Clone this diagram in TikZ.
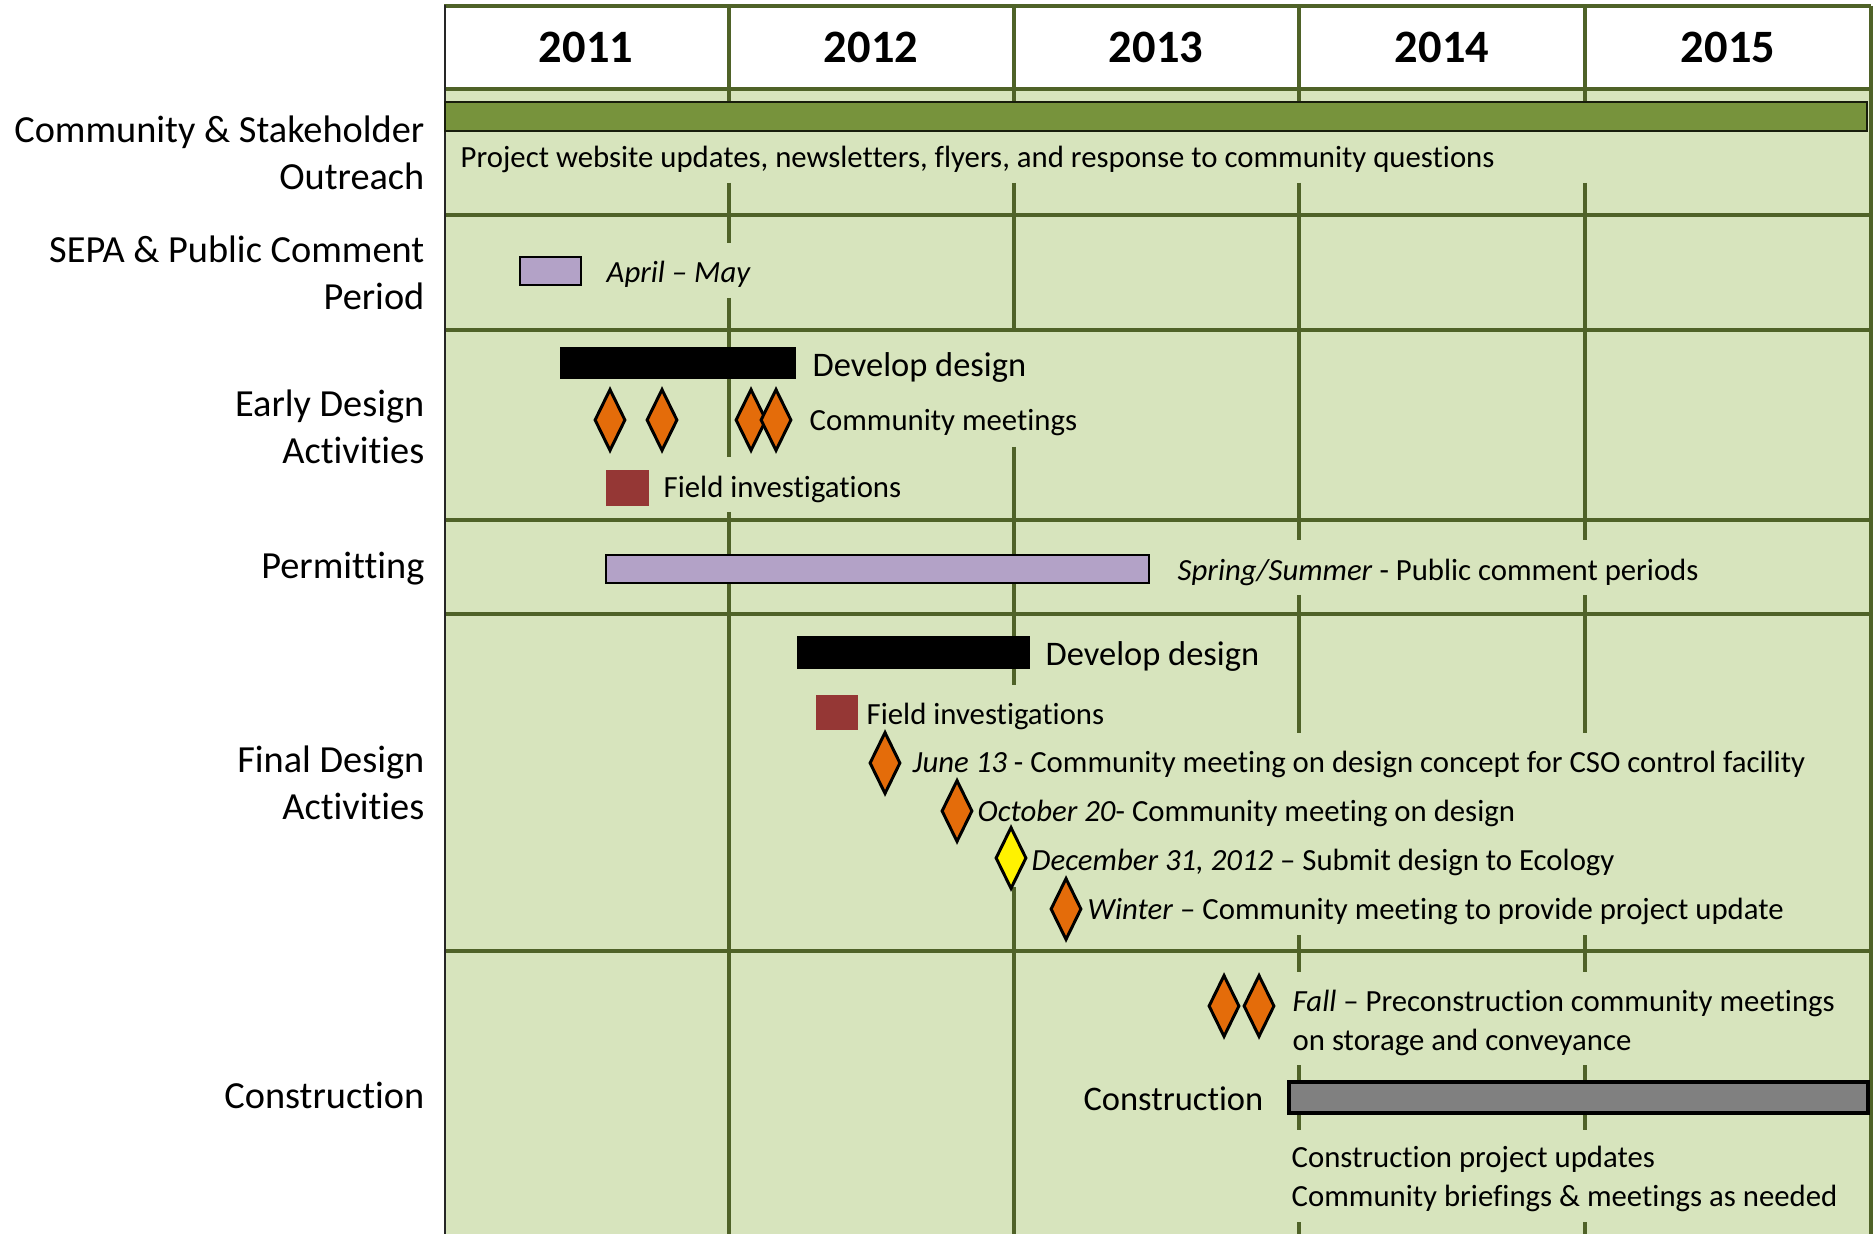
\documentclass[tikz,border=0pt]{standalone}
\usepackage{fontspec}
\setmainfont{Carlito}[Ligatures=NoCommon]
\usetikzlibrary{shapes.geometric}
\definecolor{chart_bg}{RGB}{215, 228, 189}
\definecolor{chart_line}{RGB}{79, 98, 40}
\definecolor{olive_bar}{RGB}{119, 147, 60}
\definecolor{lilac}{RGB}{179, 162, 199}
\definecolor{brick}{RGB}{149, 55, 53}
\definecolor{meet_orange}{RGB}{228, 108, 10}
\definecolor{bar_grey}{RGB}{128, 128, 128}
\tikzstyle{rowlabel}=[anchor=east,align=right,inner sep=0pt,
  font=\fontsize{10.9}{13.4}\selectfont]
\tikzstyle{year}=[inner sep=0pt,font=\bfseries\fontsize{13.2}{15}\selectfont]
\tikzstyle{note}=[anchor=west,align=left,inner sep=0pt,
  font=\fontsize{8.75}{11.1}\selectfont]
\tikzstyle{bignote}=[anchor=west,inner sep=0pt,font=\fontsize{9.8}{11.5}\selectfont]
\tikzstyle{meet}=[diamond,fill=meet_orange,draw=black,line width=0.85pt,
  inner sep=0pt,minimum width=0.31cm,minimum height=0.62cm]
\tikzstyle{deadline}=[style=meet,fill=yellow]
\tikzstyle{yearline}=[draw=chart_line,line width=0.95pt]
\tikzstyle{rowline}=[draw=chart_line,line width=1.15pt]
\tikzstyle{none}=[]

\begin{document}
\begin{tikzpicture}[x=0.01cm, y=-0.01cm]
            \useasboundingbox (0, 0) rectangle (1873, 1234);
            \fill [white] (444, 6) rectangle (1871, 89);
            \fill [chart_bg] (444, 89) rectangle (1871, 1234);
            % year lines, broken where the text boxes sit
            \draw [style=yearline] (729, 6) to (729, 101);
            \draw [style=yearline] (729, 183) to (729, 243);
            \draw [style=yearline] (729, 298) to (729, 457);
            \draw [style=yearline] (729, 512) to (729, 1234);
            \draw [style=yearline] (1014, 6) to (1014, 101);
            \draw [style=yearline] (1014, 183) to (1014, 332);
            \draw [style=yearline] (1014, 447) to (1014, 685);
            \draw [style=yearline] (1014, 887) to (1014, 1234);
            \draw [style=yearline] (1299, 6) to (1299, 101);
            \draw [style=yearline] (1299, 183) to (1299, 540);
            \draw [style=yearline] (1299, 595) to (1299, 733);
            \draw [style=yearline] (1299, 935) to (1299, 972);
            \draw [style=yearline] (1299, 1065) to (1299, 1130);
            \draw [style=yearline] (1299, 1222) to (1299, 1234);
            \draw [style=yearline] (1585, 6) to (1585, 101);
            \draw [style=yearline] (1585, 183) to (1585, 540);
            \draw [style=yearline] (1585, 595) to (1585, 733);
            \draw [style=yearline] (1585, 935) to (1585, 972);
            \draw [style=yearline] (1585, 1065) to (1585, 1130);
            \draw [style=yearline] (1585, 1222) to (1585, 1234);
            \draw [style=yearline] (1871, 6) to (1871, 1234);
            % row lines
            \draw [style=rowline] (444, 6) to (1871, 6);
            \draw [style=rowline] (444, 89) to (1871, 89);
            \draw [style=rowline] (444, 215) to (1871, 215);
            \draw [style=rowline] (444, 330) to (1871, 330);
            \draw [style=rowline] (444, 520) to (1871, 520);
            \draw [style=rowline] (444, 614) to (1871, 614);
            \draw [style=rowline] (444, 951) to (1871, 951);
            \draw [black!85, line width=0.75pt] (445, 5) to (445, 1234);
            % bars
            \draw [fill=olive_bar, draw=black!80!olive_bar, line width=0.8pt] (445, 102) rectangle (1867, 131);
            \draw [fill=lilac, draw=black, line width=0.6pt] (520, 257) rectangle (581, 285);
            \fill [black] (560, 347) rectangle (796, 379);
            \fill [brick] (606, 470) rectangle (649, 506);
            \draw [fill=lilac, draw=black, line width=0.6pt] (606, 555) rectangle (1149, 583);
            \fill [black] (797, 636) rectangle (1030, 669);
            \fill [brick] (816, 695) rectangle (858, 730);
            \draw [fill=bar_grey, draw=black, line width=0.9pt] (1289, 1082) rectangle (1868, 1113);
            % milestones
            \node [style=meet] (0) at (610, 420) {};
            \node [style=meet] (1) at (662, 420) {};
            \node [style=meet] (2) at (751, 420) {};
            \node [style=meet] (3) at (776, 420) {};
            \node [style=meet] (4) at (885, 763) {};
            \node [style=meet] (5) at (957, 811) {};
            \node [style=deadline] (6) at (1011, 858) {};
            \node [style=meet] (7) at (1066, 909) {};
            \node [style=meet] (8) at (1224, 1006) {};
            \node [style=meet] (9) at (1259, 1006) {};
            % years
            \node [style=year] (10) at (586, 47) {2011};
            \node [style=year] (11) at (871, 47) {2012};
            \node [style=year] (12) at (1156, 47) {2013};
            \node [style=year] (13) at (1442, 47) {2014};
            \node [style=year] (14) at (1728, 47) {2015};
            % row labels
            \node [style=rowlabel] (15) at (425, 153) {Community \& Stakeholder\\Outreach};
            \node [style=rowlabel] (16) at (425, 273) {SEPA \& Public Comment\\Period};
            \node [style=rowlabel] (17) at (425, 427) {Early Design\\Activities};
            \node [style=rowlabel] (18) at (425, 569) {Permitting};
            \node [style=rowlabel] (19) at (425, 783) {Final Design\\Activities};
            \node [style=rowlabel] (20) at (425, 1095) {Construction};
            % texts in the chart
            \node [style=note] (21) at (460, 159) {Project website updates, newsletters, flyers, and response to community questions};
            \node [style=note] (22) at (606, 274) {\textit{April – May}};
            \node [style=bignote] (23) at (812, 368) {Develop design};
            \node [style=note] (24) at (809, 423) {Community meetings};
            \node [style=note] (25) at (663, 489) {Field investigations};
            \node [style=note] (26) at (1177, 572) {\textit{Spring/Summer} - Public comment periods};
            \node [style=bignote] (27) at (1045, 656) {Develop design};
            \node [style=note] (28) at (866, 716) {Field investigations};
            \node [style=note] (29) at (912, 764) {\textit{June 13} - Community meeting on design concept for CSO control facility};
            \node [style=note] (30) at (977, 813) {\textit{October 20}- Community meeting on design};
            \node [style=note] (31) at (1031, 862) {\textit{December 31, 2012} – Submit design to Ecology};
            \node [style=note] (32) at (1087, 911) {\textit{Winter} – Community meeting to provide project update};
            \node [style=note] (33) at (1292, 1023) {\textit{Fall} – Preconstruction community meetings\\on storage and conveyance};
            \node [style=bignote, anchor=east] (34) at (1264, 1099) {Construction};
            \node [style=note] (35) at (1291, 1179) {Construction project updates\\Community briefings \& meetings as needed};
    \end{tikzpicture}
\end{document}
